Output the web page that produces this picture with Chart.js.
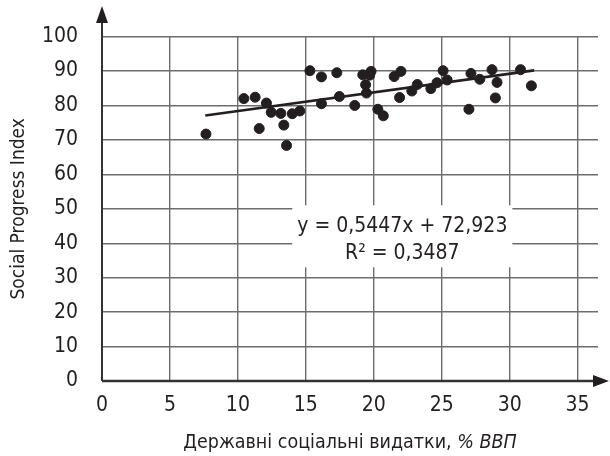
<!DOCTYPE html>
<html>
<head>
<meta charset="utf-8">
<script src="https://cdn.jsdelivr.net/npm/chart.js@4/dist/chart.umd.min.js"></script>
<style>
  html, body { margin: 0; padding: 0; background: #fff; }
  canvas { display: block; }
</style>
</head>
<body>
<canvas class="myChart" width="610" height="456"></canvas>
<script>
// values
const spending = [7.65, 10.44, 11.27, 11.57, 12.1, 12.45, 13.16, 13.38, 13.58, 14.0, 14.56,
  15.3, 16.15, 16.15, 17.28, 17.47, 18.6, 19.19, 19.7, 19.8, 19.4, 19.46, 20.3, 20.7,
  21.5, 21.9, 22.0, 22.8, 23.2, 24.2, 24.65, 25.1, 25.4, 27.0, 27.15, 27.8, 28.7,
  29.07, 28.95, 30.8, 31.6];
const spi = [71.7, 82.0, 82.4, 73.3, 80.7, 78.0, 77.7, 74.3, 68.4, 77.6, 78.4,
  90.1, 88.3, 80.5, 89.5, 82.6, 80.0, 88.9, 88.8, 89.9, 86.0, 83.6, 78.9, 77.0,
  88.4, 82.3, 89.9, 84.2, 86.1, 84.9, 86.6, 90.1, 87.4, 78.9, 89.3, 87.6, 90.4,
  86.7, 82.2, 90.4, 85.7];
const trendX = [7.6, 31.8];
const trendY = [77.1, 90.2];
const xTicks = [0, 5, 10, 15, 20, 25, 30, 35];
const yTicks = [0, 10, 20, 30, 40, 50, 60, 70, 80, 90, 100];
const equationLines = ["y = 0,5447x + 72,923", "R² = 0,3487"];
const xTitle = ["Державні соціальні видатки, ", "% ВВП"];
const yTitle = "Social Progress Index";

const FONT = "'Liberation Sans Narrow', 'DejaVu Sans Condensed', 'Roboto', sans-serif";
const INK = "#231f20";

// axis arrows, axis lines, equation box and x title
const extras = {
  id: "extras",
  beforeDatasetsDraw(chart) {
    const { ctx, chartArea: a, scales } = chart;
    const x = scales.x, y = scales.y;
    // equation box
    const bx0 = x.getPixelForValue(14.0), bx1 = x.getPixelForValue(30.2);
    const by0 = y.getPixelForValue(51), by1 = y.getPixelForValue(33);
    ctx.save();
    ctx.fillStyle = "#fff";
    ctx.fillRect(bx0, by0, bx1 - bx0, by1 - by0);
    ctx.fillStyle = INK;
    ctx.font = "21px " + FONT;
    ctx.textAlign = "center";
    ctx.textBaseline = "middle";
    const cx = x.getPixelForValue(22.1);
    ctx.fillText(equationLines[0], cx, y.getPixelForValue(44.9));
    ctx.fillText(equationLines[1], cx, y.getPixelForValue(37.0));

    // axis lines
    const ox = x.getPixelForValue(0), oy = y.getPixelForValue(0);
    ctx.strokeStyle = "#333";
    ctx.lineWidth = 2;
    ctx.beginPath();
    ctx.moveTo(ox, oy);
    ctx.lineTo(ox, 12);
    ctx.stroke();
    ctx.lineWidth = 2.5;
    ctx.beginPath();
    ctx.moveTo(ox, oy);
    ctx.lineTo(600, oy);
    ctx.stroke();
    ctx.fillStyle = INK;
    ctx.beginPath();
    ctx.moveTo(ox, 6);
    ctx.lineTo(ox - 6, 23);
    ctx.lineTo(ox + 6, 23);
    ctx.closePath();
    ctx.fill();
    ctx.beginPath();
    ctx.moveTo(609, oy);
    ctx.lineTo(593, oy - 6);
    ctx.lineTo(593, oy + 6);
    ctx.closePath();
    ctx.fill();

    // x title with italic part
    const tf = "19.5px " + FONT;
    ctx.font = tf;
    const w1 = ctx.measureText(xTitle[0]).width;
    ctx.font = "italic " + tf;
    const w2 = ctx.measureText(xTitle[1]).width;
    const tx = (a.left + a.right) / 2 - (w1 + w2) / 2;
    ctx.textAlign = "left";
    ctx.textBaseline = "middle";
    ctx.font = tf;
    ctx.fillText(xTitle[0], tx, 443);
    ctx.font = "italic " + tf;
    ctx.fillText(xTitle[1], tx + w1, 443);
    ctx.restore();
  }
};

const myChart = document.querySelector(".myChart");

new Chart(myChart, {
  type: "scatter",
  data: {
    datasets: [
      {
        label: "SPI",
        data: spending.map((v, i) => ({ x: v, y: spi[i] })),
        backgroundColor: INK,
        borderColor: INK,
        pointRadius: 5,
        pointHoverRadius: 5
      },
      {
        label: "Trend",
        type: "line",
        data: trendX.map((v, i) => ({ x: v, y: trendY[i] })),
        borderColor: INK,
        borderWidth: 2.6,
        pointRadius: 0,
        fill: false
      }
    ]
  },
  plugins: [extras],
  options: {
    responsive: false,
    animation: false,
    layout: {
      padding: { left: 0, top: 32, right: 12, bottom: 0 }
    },
    scales: {
      x: {
        type: "linear",
        min: 0,
        max: 36.5,
        afterBuildTicks: (s) => { s.ticks = xTicks.map(v => ({ value: v })); },
        afterFit: (s) => { s.height = 75; },
        border: { display: false },
        grid: { color: "#6d6d6d", lineWidth: 1.4, drawTicks: false },
        ticks: {
          color: INK,
          padding: 12,
          font: { family: FONT, size: 21 },
          maxRotation: 0
        }
      },
      y: {
        min: 0,
        max: 100,
        afterBuildTicks: (s) => { s.ticks = yTicks.map(v => ({ value: v })); },
        afterFit: (s) => { s.width = 102; },
        border: { display: false },
        grid: { color: "#6d6d6d", lineWidth: 1.4, drawTicks: false },
        title: {
          display: true,
          text: yTitle,
          color: INK,
          font: { family: FONT, size: 19 },
          padding: { top: 8, bottom: 0 }
        },
        ticks: {
          color: INK,
          padding: 24,
          font: { family: FONT, size: 21 }
        }
      }
    },
    plugins: {
      legend: { display: false },
      tooltip: { enabled: false }
    }
  }
});
</script>
</body>
</html>
